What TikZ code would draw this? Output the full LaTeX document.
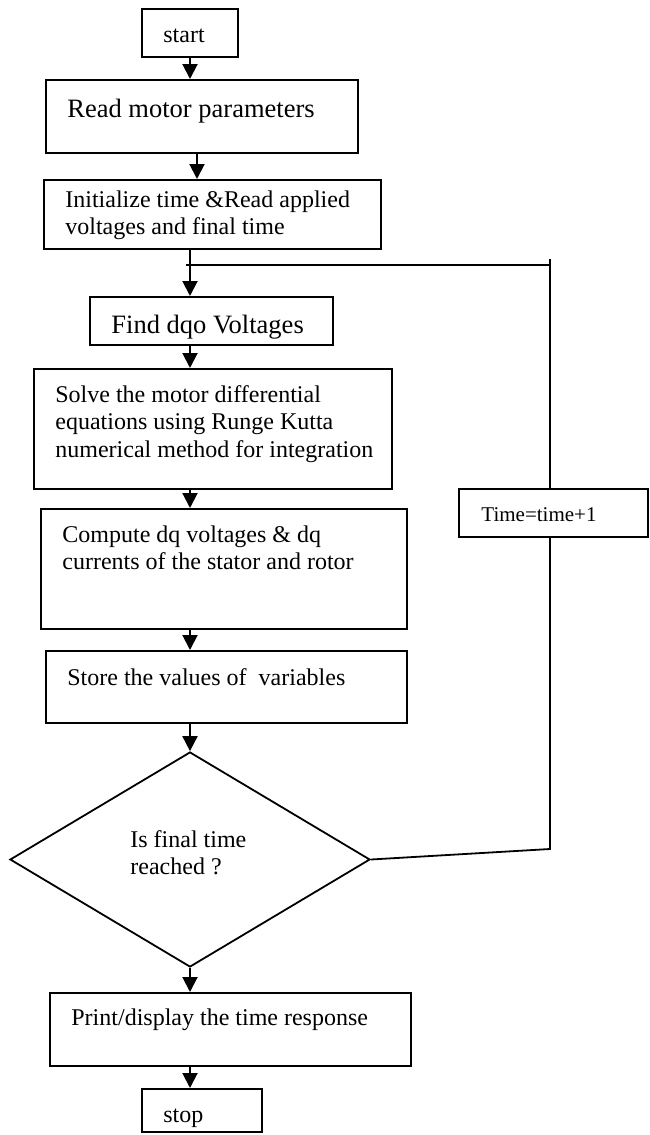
\documentclass[tikz,border=0pt]{standalone}
\usepackage{fontspec}
\setmainfont{Liberation Serif}
\usetikzlibrary{arrows.meta,shapes.geometric,fit}
\newcommand{\fclines}[1]{\begin{tabular}[t]{@{}l@{}}#1\end{tabular}}
\begin{document}
\begin{tikzpicture}[x=0.5pt,y=-0.5pt,
  box/.style={draw, line width=1pt, fill=white, inner sep=0pt, fit={#1}},
  thinbox/.style={draw, line width=0.9pt, fill=white, inner sep=0pt, fit={#1}},
  txt/.style={anchor=base west, inner sep=0pt, font=\fontsize{12}{13.75}\selectfont},
  bigtxt/.style={anchor=base west, inner sep=0pt, font=\fontsize{13.25}{15}\selectfont},
  smalltxt/.style={anchor=base west, inner sep=0pt, font=\fontsize{10.5}{12}\selectfont},
  arr/.style={-{Triangle[length=7.5pt,width=7.5pt]}, line width=1pt},
  fb/.style={line width=0.9pt}]
\useasboundingbox (0,0) rectangle (649,1135);
% axes
\coordinate (ax) at (190,0);
\coordinate (ax2) at (197,0);
% boxes
\node[box={(142,9) (238,57)}] (start) {};
\node[box={(46,80) (358,153)}] (read) {};
\node[box={(44,180) (381,249)}] (init) {};
\node[box={(90,297) (333,345)}] (find) {};
\node[box={(34,369) (392,489)}] (solve) {};
\node[box={(41,509) (407,629)}] (comp) {};
\node[box={(46,651) (407,723)}] (store) {};
\node[draw, diamond, line width=0.9pt, fill=white, inner sep=0pt,
      minimum width=180pt, minimum height=107.5pt] (dec) at (190,859.5) {};
\node[box={(50,993) (411,1066)}] (print) {};
\node[box={(142,1089) (262,1132)}] (stop) {};
\node[thinbox={(459,489) (648,537)}] (time) {};
% connectors
\draw[arr] (start.south -| ax) -- (read.north -| ax);
\draw[arr] (read.south -| ax2) -- (init.north -| ax2);
\draw[arr] (init.south -| ax) -- (find.north -| ax);
\draw[arr] (find.south -| ax) -- (solve.north -| ax);
\draw[arr] (solve.south -| ax) -- (comp.north -| ax);
\draw[arr] (comp.south -| ax) -- (store.north -| ax);
\draw[arr] (store.south -| ax) -- (dec.north);
\draw[arr] (dec.south) -- (print.north -| ax);
\draw[arr] (print.south -| ax) -- (stop.north -| ax);
% feedback loop
\coordinate (fbcorner) at (550,849);
\coordinate (fbtop) at (550,259);
\coordinate (fbjoin) at (550,265);
\coordinate (fbleft) at (186,265);
\draw[fb] (dec.east) -- (fbcorner) -- (time.south -| fbcorner);
\draw[fb] (time.north -| fbcorner) -- (fbtop);
\draw[fb] (fbjoin) -- (fbleft);
% texts
\node[txt] (t-start) at (163,42.5) {start};
\node[bigtxt] (t-read) at (67,117) {Read motor parameters};
\node[txt] (t-init) at (65,207) {\fclines{Initialize time \&Read applied\\voltages and final time}};
\node[bigtxt] (t-find) at (111,333) {Find dqo Voltages};
\node[txt] (t-solve) at (55,402) {\fclines{Solve the motor differential\\equations using Runge Kutta\\numerical method for integration}};
\node[txt] (t-comp) at (62,542) {\fclines{Compute dq voltages \& dq\\currents of the stator and rotor}};
\node[txt] (t-store) at (67,685) {Store the values of\ \ variables};
\node[txt] (t-dec) at (130,847) {\fclines{Is final time\\reached ?}};
\node[txt] (t-print) at (71,1025) {Print/display the time response};
\node[txt] (t-stop) at (163,1122) {stop};
\node[smalltxt] (t-time) at (481,521) {Time=time+1};
\end{tikzpicture}
\end{document}
